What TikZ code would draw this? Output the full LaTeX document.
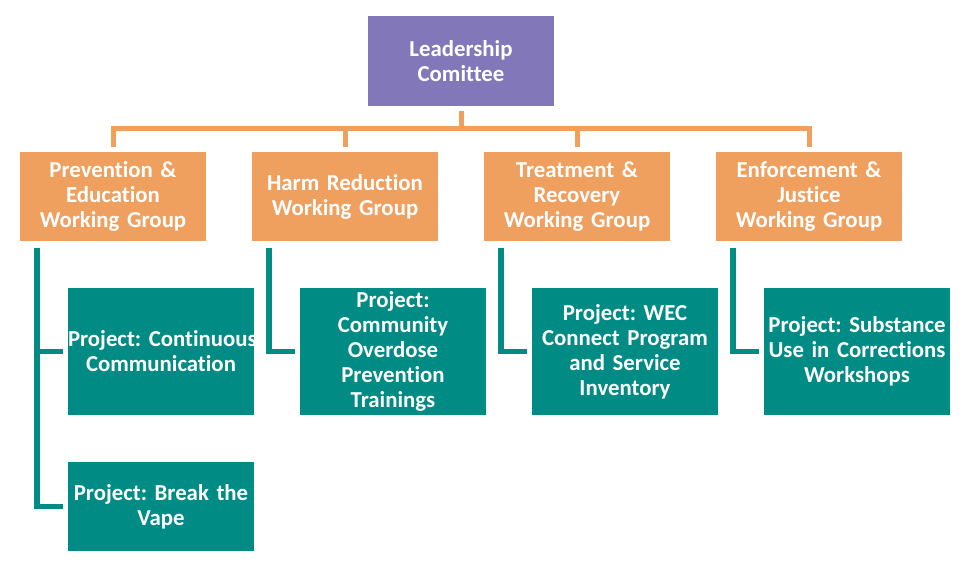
\documentclass[tikz,border=0pt]{standalone}
\usepackage{fontspec}
\setmainfont{Carlito}[Ligatures={NoCommon}]
\usetikzlibrary{calc}
\definecolor{lpurple}{HTML}{8278B9}
\definecolor{lorange}{HTML}{F0A05E}
\definecolor{lteal}{HTML}{008B84}
\frenchspacing
\hyphenpenalty=10000
\exhyphenpenalty=10000
\tikzset{
  box/.style={draw=none, text width=186pt, inner sep=0pt, align=center, text=white,
    font=\fontsize{22.8}{25}\selectfont\bfseries},
  leadbox/.style={box, fill=lpurple, minimum height=90pt},
  wgbox/.style={box, fill=lorange, minimum height=89pt},
  projbox/.style={box, fill=lteal, minimum height=127pt},
  vapebox/.style={box, fill=lteal, minimum height=89pt},
  oline/.style={draw=lorange, line width=5pt},
  tline/.style={draw=lteal, line width=5.5pt}
}
\begin{document}
\begin{tikzpicture}[x=1pt,y=-1pt]
\useasboundingbox[fill=white] (0,0) rectangle (970,570);
\node[leadbox] (lead) at (461,61) {Leadership\\Comittee};
\node[wgbox] (pe) at (113,196.5) {Prevention \&\\Education\\Working Group};
\node[wgbox] (hr) at (345,196.5) {Harm Reduction\\Working Group};
\node[wgbox] (tr) at (577,196.5) {Treatment \&\\Recovery\\Working Group};
\node[wgbox] (ej) at (809,196.5) {Enforcement \&\\Justice\\Working Group};
\node[projbox] (p1) at (161,351.5) {Project:~Continuous\\Communication};
\node[vapebox] (p2) at (161,506.5) {Project:~Break~the\\Vape};
\node[projbox] (p3) at (393,351.5) {Project:\\Community\\Overdose\\Prevention\\Trainings};
\node[projbox] (p4) at (625,351.5) {Project: WEC\\Connect Program\\and Service\\Inventory};
\node[projbox] (p5) at (857,351.5) {Project:~Substance\\Use~in~Corrections\\Workshops};
\coordinate (bus) at (461,128);
% orange connectors
\draw[oline] ([yshift=-5pt]lead.south) -- (bus);
\draw[oline] ([yshift=5pt]pe.north) |- (bus);
\draw[oline] ([yshift=5pt]hr.north) |- (bus);
\draw[oline] ([yshift=5pt]tr.north) |- (bus);
\draw[oline] ([yshift=5pt]ej.north) |- (bus);
% teal connectors
\draw[tline] ([xshift=17pt,yshift=-7pt]pe.south west) |- ([xshift=-5pt]p1.west);
\draw[tline] ([xshift=17pt,yshift=-7pt]pe.south west) |- ([xshift=-5pt]p2.west);
\draw[tline] ([xshift=17pt,yshift=-7pt]hr.south west) |- ([xshift=-5pt]p3.west);
\draw[tline] ([xshift=17pt,yshift=-7pt]tr.south west) |- ([xshift=-5pt]p4.west);
\draw[tline] ([xshift=17pt,yshift=-7pt]ej.south west) |- ([xshift=-5pt]p5.west);
\end{tikzpicture}
\end{document}
